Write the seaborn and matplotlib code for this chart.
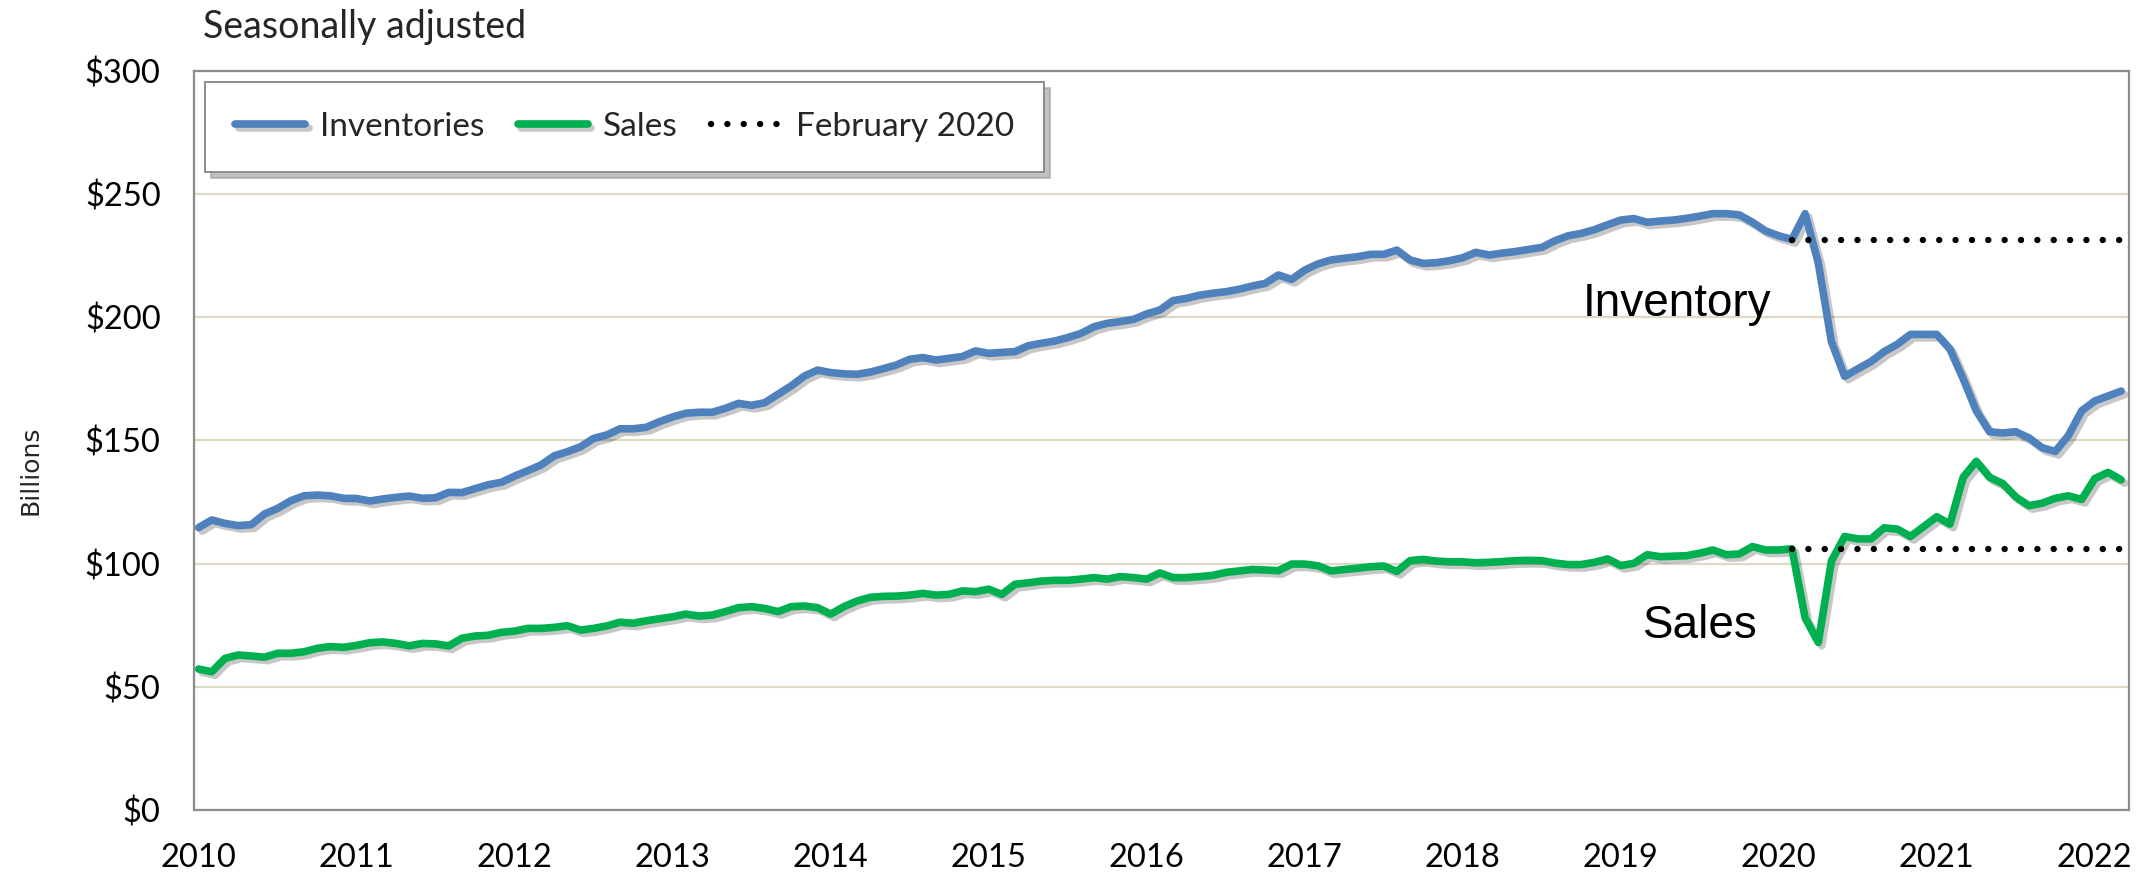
import numpy as np
import pandas as pd
import matplotlib
matplotlib.use("Agg")
import matplotlib.pyplot as plt
import matplotlib.patheffects as pe
import seaborn as sns

# monthly values, Jan 2010 - Mar 2022, $ billions
inventories = [
    114.6, 117.7, 116.3, 115.4, 115.8, 120.1, 122.4, 125.5, 127.5, 127.8, 127.5, 126.5,
    126.4, 125.4, 126.2, 126.9, 127.4, 126.5, 126.7, 128.9, 128.8, 130.4, 132.0, 133.0,
    135.5, 137.7, 140.0, 143.7, 145.4, 147.4, 150.8, 152.2, 154.7, 154.7, 155.3, 157.6,
    159.5, 161.0, 161.4, 161.4, 163.0, 165.0, 164.2, 165.3, 168.7, 172.1, 176.1, 178.5,
    177.5, 177.0, 176.8, 177.7, 179.1, 180.6, 182.9, 183.6, 182.6, 183.3, 184.0, 186.3,
    185.3, 185.7, 186.0, 188.4, 189.4, 190.3, 191.7, 193.4, 196.1, 197.5, 198.2, 199.1,
    201.3, 202.9, 206.7, 207.6, 208.9, 209.7, 210.3, 211.3, 212.6, 213.7, 217.1, 215.3,
    219.1, 221.6, 223.2, 223.9, 224.5, 225.5, 225.5, 227.2, 223.2, 221.8, 222.1, 222.9,
    224.1, 226.3, 225.2, 226.0, 226.6, 227.5, 228.3, 231.0, 233.0, 234.0, 235.5, 237.5,
    239.4, 240.0, 238.5, 239.0, 239.4, 240.1, 241.0, 242.0, 242.0, 241.5, 238.5, 235.0,
    233.0, 231.5, 242.0, 222.0, 190.0, 176.0, 179.0, 182.0, 186.0, 189.0, 193.0, 193.0,
    193.0, 187.0, 175.0, 162.0, 153.5, 153.0, 153.5, 151.0, 147.0, 145.5, 152.0, 162.0,
    166.0, 168.0, 170.0,
]
sales = [
    57.2, 56.1, 61.5, 62.9, 62.5, 62.0, 63.6, 63.6, 64.2, 65.6, 66.3, 66.0,
    66.8, 67.9, 68.2, 67.6, 66.6, 67.6, 67.4, 66.6, 69.7, 70.6, 70.9, 72.1,
    72.6, 73.7, 73.7, 74.1, 74.8, 73.0, 73.7, 74.7, 76.2, 75.8, 76.8, 77.6,
    78.4, 79.5, 78.7, 79.1, 80.5, 82.1, 82.5, 81.8, 80.5, 82.5, 82.8, 82.1,
    79.5, 82.5, 84.8, 86.3, 86.7, 86.8, 87.2, 87.9, 87.2, 87.5, 88.9, 88.6,
    89.6, 87.5, 91.6, 92.2, 92.9, 93.2, 93.2, 93.7, 94.3, 93.7, 94.7, 94.3,
    93.7, 96.2, 94.3, 94.3, 94.7, 95.2, 96.4, 97.0, 97.6, 97.4, 97.1, 99.8,
    99.8, 99.1, 97.0, 97.6, 98.1, 98.7, 99.0, 96.8, 101.2, 101.7, 101.0, 100.7,
    100.7, 100.3, 100.5, 100.8, 101.2, 101.3, 101.2, 100.2, 99.6, 99.6, 100.5, 101.9,
    99.2, 100.1, 103.6, 102.8, 103.0, 103.2, 104.2, 105.5, 103.6, 103.9, 106.9, 105.5,
    105.5, 106.0, 78.0, 68.0, 101.0, 111.0, 110.0, 110.0, 114.5, 114.0, 111.0, 115.0,
    119.0, 116.0, 135.0, 141.5, 135.0, 132.5, 127.0, 123.5, 124.5, 126.5, 127.5, 126.0,
    134.5, 137.0, 134.0,
]
year_labels = ['2010', '2011', '2012', '2013', '2014', '2015', '2016',
               '2017', '2018', '2019', '2020', '2021', '2022']
y_ticks = [0, 50, 100, 150, 200, 250, 300]
feb_2020 = 121  # month index of February 2020

months = np.arange(len(inventories))
df = pd.DataFrame({'month': months, 'Inventories': inventories, 'Sales': sales})
ref = pd.DataFrame({'month': months[feb_2020:]})
ref['inv'] = inventories[feb_2020]
ref['sales'] = sales[feb_2020]

sns.set_style('white')
plt.rcParams['font.family'] = ['Lato', 'DejaVu Sans']

fig = plt.figure(figsize=(21.46, 8.72), dpi=100)
ax = fig.add_axes([0.0904, 0.0711, 0.9017, 0.8478])

shadow = [pe.SimpleLineShadow(offset=(2.5, -2.5), shadow_color='black', alpha=0.22), pe.Normal()]
sns.lineplot(data=df, x='month', y='Inventories', color='#4F81BD', linewidth=5.5,
             label='Inventories', ax=ax, path_effects=shadow,
             solid_joinstyle='round', solid_capstyle='round')
sns.lineplot(data=df, x='month', y='Sales', color='#00B050', linewidth=5.5,
             label='Sales', ax=ax, path_effects=shadow,
             solid_joinstyle='round', solid_capstyle='round')
dots = dict(color='black', linewidth=4.6, linestyle=(0, (0.01, 2.55)), dash_capstyle='round')
ax.plot(ref['month'], ref['inv'], label='February 2020', **dots)
ax.plot(ref['month'], ref['sales'], **dots)

ax.set_xlim(-0.35, 146.6)
ax.set_ylim(0, 300)
ax.set_xticks(months[::12])
ax.set_xticklabels(year_labels)
ax.set_yticks(y_ticks)
ax.set_yticklabels([f'${v}' for v in y_ticks])
ax.tick_params(length=0, pad=24, labelsize=23.5, colors='black')
ax.set_xlabel('')
ax.set_ylabel('')

ax.yaxis.grid(True, color='#DDD9C3', linewidth=1.6)
ax.xaxis.grid(False)
ax.set_axisbelow(True)
for side in ['left', 'bottom', 'top', 'right']:
    ax.spines[side].set_color('#8C8C8C')
    ax.spines[side].set_linewidth(1.6)

leg = ax.legend(loc='upper left', bbox_to_anchor=(0.0057, 0.9847), borderaxespad=0,
                ncol=3, fontsize=24, handlelength=2.1, handletextpad=0.45,
                columnspacing=1.0, borderpad=0.9, fancybox=False,
                shadow={'ox': 4, 'oy': -4, 'color': '#9A9A9A', 'alpha': 0.6},
                frameon=True, edgecolor='#8C8C8C')
leg.get_frame().set_linewidth(1.4)

ax.text(105.1, 200.5, 'Inventory', fontsize=33, family='Liberation Sans',
        ha='left', va='baseline', color='black')
ax.text(109.7, 70.0, 'Sales', fontsize=33, family='Liberation Sans',
        ha='left', va='baseline', color='black')

fig.text(31 / 2146, 1 - 470 / 872, 'Billions', fontsize=18, family='DejaVu Sans',
         rotation=90, ha='center', va='center')
fig.text(203 / 2146, 1 - 38 / 872, 'Seasonally adjusted', fontsize=27,
         ha='left', va='baseline')

fig.savefig('out.png', dpi=100)
